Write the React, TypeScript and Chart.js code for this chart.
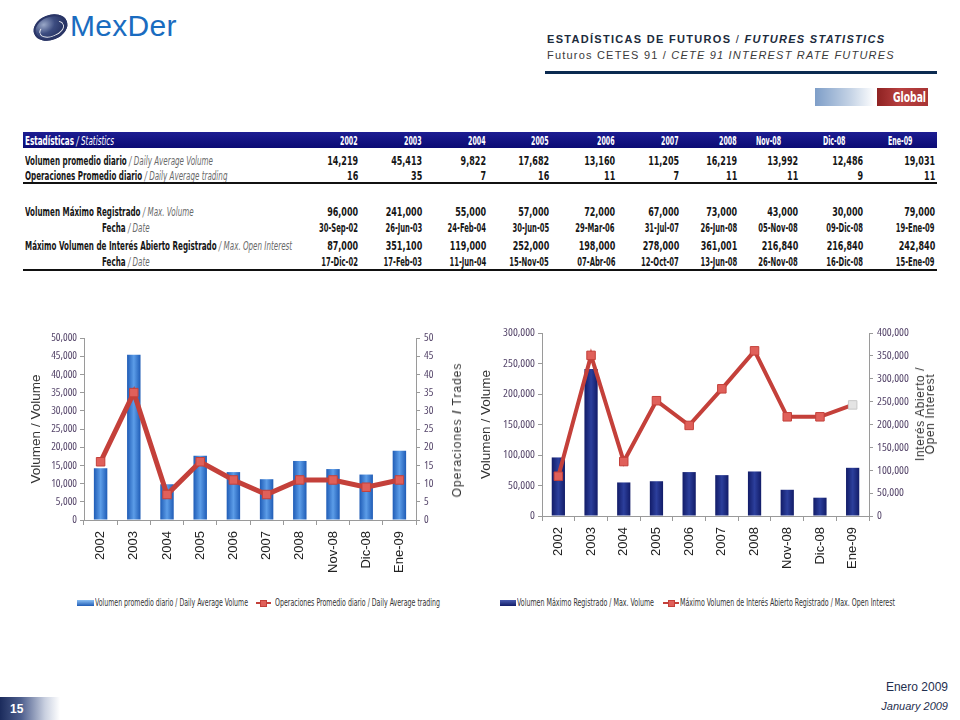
import React, { useEffect, useRef } from "react";
import { Chart, registerables } from "chart.js";

Chart.register(...registerables);

// ---------- data ----------
const categories = ["2002", "2003", "2004", "2005", "2006", "2007", "2008", "Nov-08", "Dic-08", "Ene-09"];
const dailyAvgVolume = [14219, 45413, 9822, 17682, 13160, 11205, 16219, 13992, 12486, 19031];
const dailyAvgTrading = [16, 35, 7, 16, 11, 7, 11, 11, 9, 11];
const maxVolume = [96000, 241000, 55000, 57000, 72000, 67000, 73000, 43000, 30000, 79000];
const maxVolumeDate = ["30-Sep-02", "26-Jun-03", "24-Feb-04", "30-Jun-05", "29-Mar-06", "31-Jul-07", "26-Jun-08", "05-Nov-08", "09-Dic-08", "19-Ene-09"];
const maxOpenInterest = [87000, 351100, 119000, 252000, 198000, 278000, 361001, 216840, 216840, 242840];
const maxOpenInterestDate = ["17-Dic-02", "17-Feb-03", "11-Jun-04", "15-Nov-05", "07-Abr-06", "12-Oct-07", "13-Jun-08", "26-Nov-08", "16-Dic-08", "15-Ene-09"];

const volumeAxisMax = 50000;
const volumeAxisStep = 5000;
const tradesAxisMax = 50;
const tradesAxisStep = 5;
const maxVolumeAxisMax = 300000;
const maxVolumeAxisStep = 50000;
const openInterestAxisMax = 400000;
const openInterestAxisStep = 50000;

// ---------- style ----------
const COND = "'DejaVu Sans Condensed', sans-serif";
const TICK_FAMILY = "'Open Sans', 'DejaVu Sans Condensed', sans-serif";
const SANS = "'Liberation Sans', Arial, sans-serif";
const TICK_COLOR = "#55456a";
const AXIS_COLOR = "#9a9a9a";
const RED = "#c4403a";
const RED_LIGHT = "#e0605a";

const fmt = (n: number) => n.toLocaleString("en-US");

function cylinder(dark: string, light: string, fallback: string, pct: number) {
  return (ctx: any) => {
    const chart = ctx.chart;
    if (ctx.type !== "data" || !chart.chartArea || !chart.scales.x) return fallback;
    const x = chart.scales.x.getPixelForValue(ctx.dataIndex);
    const half = ((chart.chartArea.width / categories.length) * pct) / 2;
    const g = chart.ctx.createLinearGradient(x - half, 0, x + half, 0);
    g.addColorStop(0, dark);
    g.addColorStop(0.5, light);
    g.addColorStop(1, dark);
    return g;
  };
}

type ChartCfg = {
  barLabel: string;
  lineLabel: string;
  bars: number[];
  line: number[];
  yMax: number;
  yStep: number;
  y1Max: number;
  y1Step: number;
  yWidth: number;
  y1Width: number;
  xHeight: number;
  tickSize: number;
  barDark: string;
  barLight: string;
  lineWidth: number;
  lastPointPale: boolean;
};

function ComboChart({ cfg, width, height, left, top }: { cfg: ChartCfg; width: number; height: number; left: number; top: number }) {
  const ref = useRef<HTMLCanvasElement | null>(null);
  useEffect(() => {
    if (!ref.current) return;
    const pct = 0.45 * 0.9;
    const tickFont = { family: TICK_FAMILY, size: cfg.tickSize, weight: "condensed" };
    const chart = new Chart(ref.current, {
      type: "bar",
      data: {
        labels: categories,
        datasets: [
          {
            type: "bar",
            label: cfg.barLabel,
            data: cfg.bars,
            yAxisID: "y",
            order: 1,
            backgroundColor: cylinder(cfg.barDark, cfg.barLight, cfg.barDark, pct) as any,
            barPercentage: 0.45,
            categoryPercentage: 0.9,
          },
          {
            type: "line",
            label: cfg.lineLabel,
            data: cfg.line,
            yAxisID: "y1",
            order: 0,
            borderColor: RED,
            borderWidth: cfg.lineWidth,
            tension: 0,
            pointStyle: "rect",
            pointRadius: 6,
            pointHoverRadius: 6,
            pointBackgroundColor: ((c: any) =>
              cfg.lastPointPale && c.dataIndex === cfg.line.length - 1 ? "#e4e4e4" : RED_LIGHT) as any,
            pointBorderColor: ((c: any) =>
              cfg.lastPointPale && c.dataIndex === cfg.line.length - 1 ? "#c8c8c8" : RED) as any,
            pointBorderWidth: 1,
          },
        ],
      },
      options: {
        responsive: false,
        animation: false,
        layout: { padding: { top: 18, bottom: 0, left: 0, right: 0 } },
        plugins: {
          tooltip: { enabled: false },
          legend: { display: false },
        },
        scales: {
          x: {
            type: "category",
            offset: true,
            afterFit: (s: any) => {
              s.height = cfg.xHeight;
            },
            grid: { display: true, drawOnChartArea: false, drawTicks: true, tickLength: 5, color: AXIS_COLOR },
            border: { display: true, color: AXIS_COLOR },
            ticks: {
              minRotation: 90,
              maxRotation: 90,
              autoSkip: false,
              padding: 6,
              color: "#222",
              font: { family: SANS, size: 13 },
            },
          },
          y: {
            position: "left",
            min: 0,
            max: cfg.yMax,
            afterFit: (s: any) => {
              s.width = cfg.yWidth;
            },
            grid: { display: true, drawOnChartArea: false, drawTicks: true, tickLength: 4, color: AXIS_COLOR },
            border: { display: true, color: AXIS_COLOR },
            ticks: {
              stepSize: cfg.yStep,
              padding: 3,
              color: TICK_COLOR,
              font: tickFont,
              callback: (v: any) => fmt(Number(v)),
            },
            title: {
              display: true,
              text: "Volumen / Volume",
              color: "#333",
              font: { family: SANS, size: 13.5 },
              padding: { top: 8, bottom: 0 },
            },
          },
          y1: {
            position: "right",
            min: 0,
            max: cfg.y1Max,
            afterFit: (s: any) => {
              s.width = cfg.y1Width;
            },
            grid: { display: true, drawOnChartArea: false, drawTicks: true, tickLength: 4, color: AXIS_COLOR },
            border: { display: true, color: AXIS_COLOR },
            ticks: {
              stepSize: cfg.y1Step,
              padding: 4,
              color: TICK_COLOR,
              font: tickFont,
              callback: (v: any) => fmt(Number(v)),
            },
          },
        },
      } as any,
    });
    return () => chart.destroy();
  }, [cfg]);
  return (
    <canvas
      ref={ref}
      width={width}
      height={height}
      style={{ position: "absolute", left, top, width, height }}
    />
  );
}

const leftCfg: ChartCfg = {
  barLabel: "Volumen promedio diario / Daily Average Volume",
  lineLabel: "Operaciones Promedio diario / Daily Average trading",
  bars: dailyAvgVolume,
  line: dailyAvgTrading,
  yMax: volumeAxisMax,
  yStep: volumeAxisStep,
  y1Max: tradesAxisMax,
  y1Step: tradesAxisStep,
  yWidth: 64,
  y1Width: 54,
  xHeight: 70,
  tickSize: 11,
  barDark: "#1f5cb6",
  barLight: "#5c9de8",
  lineWidth: 5,
  lastPointPale: false,
};

const rightCfg: ChartCfg = {
  barLabel: "Volumen Máximo Registrado / Max. Volume",
  lineLabel: "Máximo Volumen de Interés Abierto Registrado / Max. Open Interest",
  bars: maxVolume,
  line: maxOpenInterest,
  yMax: maxVolumeAxisMax,
  yStep: maxVolumeAxisStep,
  y1Max: openInterestAxisMax,
  y1Step: openInterestAxisStep,
  yWidth: 72,
  y1Width: 81,
  xHeight: 74,
  tickSize: 11.5,
  barDark: "#121c68",
  barLight: "#2c3f9c",
  lineWidth: 4,
  lastPointPale: true,
};

// ---------- text helpers ----------
let measureCtx: CanvasRenderingContext2D | null = null;
function measure(text: string, font: string) {
  if (!measureCtx) measureCtx = document.createElement("canvas").getContext("2d");
  measureCtx!.font = font;
  return measureCtx!.measureText(text).width;
}
const fontStr = (bold: boolean, italic: boolean, size: number) =>
  `${italic ? "italic " : ""}${bold ? "bold" : "normal"} ${size}px ${COND}`;

function FitText({ left, cy, width, text, size, family, color, bold }: any) {
  const w = measure(text, `${bold ? "bold " : ""}${size}px ${family}`);
  const s = w > 0 ? width / w : 1;
  return (
    <div
      style={{
        position: "absolute",
        left,
        top: cy - size * 0.6,
        height: size * 1.2,
        lineHeight: size * 1.2 + "px",
        fontFamily: family,
        fontWeight: bold ? "bold" : "normal",
        fontSize: size,
        color,
        whiteSpace: "nowrap",
        transform: `scaleX(${s})`,
        transformOrigin: "left center",
      }}
    >
      {text}
    </div>
  );
}

function BarIcon({ left, top, width, c1, c2 }: any) {
  return (
    <div
      style={{
        position: "absolute",
        left,
        top,
        width,
        height: 6,
        background: `linear-gradient(${c1}, ${c2})`,
      }}
    />
  );
}

function LineIcon({ left, top, width }: any) {
  return (
    <div style={{ position: "absolute", left, top, width, height: 8 }}>
      <div style={{ position: "absolute", left: 0, top: 3, width, height: 2, background: RED }} />
      <div
        style={{
          position: "absolute",
          left: width / 2 - 3.5,
          top: 0.5,
          width: 7,
          height: 7,
          boxSizing: "border-box",
          background: RED_LIGHT,
          border: `1px solid ${RED}`,
        }}
      />
    </div>
  );
}

// ---------- table ----------
const colRight = [358, 422, 486, 549, 615, 679, 737, 798, 863, 935];
const headLeft = [0, 0, 0, 0, 0, 0, 0, 756, 823, 888];

function Cell({ x, top, h, align, sx, children, style }: any) {
  const outer: React.CSSProperties = {
    position: "absolute",
    top,
    height: h,
    lineHeight: h + "px",
    whiteSpace: "nowrap",
    ...(align === "right" ? { right: 960 - x } : { left: x }),
  };
  return (
    <div style={outer}>
      <span
        style={{
          display: "inline-block",
          transform: `scaleX(${sx})`,
          transformOrigin: align === "right" ? "right center" : "left center",
          ...style,
        }}
      >
        {children}
      </span>
    </div>
  );
}

const mainStyle: React.CSSProperties = { fontFamily: COND, fontSize: 13, fontWeight: "bold", color: "#161616" };
const itStyle: React.CSSProperties = { fontStyle: "italic", fontWeight: "normal", color: "#6a6a6a" };

function StatsTable() {
  const labelW = (main: string, sub: string) =>
    measure(main, fontStr(true, false, 13)) + measure(` / ${sub}`, fontStr(false, true, 13));
  const SX_LABEL = 188 / labelW("Volumen promedio diario", "Daily Average Volume");
  const SX_HEADLABEL = 89 / labelW("Estadísticas", "Statistics");
  const SX_NUM = 31 / measure("14,219", fontStr(true, false, 13));
  const SX_DATE = 39 / measure("30-Sep-02", fontStr(true, false, 13));
  const SX_HEAD = 17.5 / measure("2002", fontStr(true, false, 13));

  const headStyle: React.CSSProperties = { ...mainStyle, color: "#ffffff" };

  const Label = ({ top, x = 25, main, sub }: { top: number; x?: number; main: string; sub: string }) => (
    <Cell x={x} top={top} h={16} align="left" sx={SX_LABEL} style={mainStyle}>
      {main}
      <span style={itStyle}> / {sub}</span>
    </Cell>
  );
  const ValueRow = ({ top, values, sx }: { top: number; values: string[]; sx: number }) => (
    <>
      {values.map((v, i) => (
        <Cell key={i} x={colRight[i]} top={top} h={16} align="right" sx={sx} style={mainStyle}>
          {v}
        </Cell>
      ))}
    </>
  );

  return (
    <>
      <div
        style={{
          position: "absolute",
          left: 23,
          top: 132,
          width: 914,
          height: 16,
          background: "linear-gradient(#1d1d92, #0b0b74)",
        }}
      />
      <Cell x={25} top={132} h={16} align="left" sx={SX_HEADLABEL} style={headStyle}>
        Estadísticas<span style={{ fontStyle: "italic", fontWeight: "normal" }}> / Statistics</span>
      </Cell>
      {categories.map((c, i) =>
        headLeft[i] ? (
          <Cell key={c} x={headLeft[i]} top={132} h={16} align="left" sx={SX_HEAD} style={headStyle}>
            {c}
          </Cell>
        ) : (
          <Cell key={c} x={colRight[i]} top={132} h={16} align="right" sx={SX_HEAD} style={headStyle}>
            {c}
          </Cell>
        )
      )}
      <Label top={152} main="Volumen promedio diario" sub="Daily Average Volume" />
      <ValueRow top={152} values={dailyAvgVolume.map(fmt)} sx={SX_NUM} />
      <Label top={167} main="Operaciones Promedio diario" sub="Daily Average trading" />
      <ValueRow top={167} values={dailyAvgTrading.map(fmt)} sx={SX_NUM} />
      <div style={{ position: "absolute", left: 23, top: 182, width: 914, height: 2, background: "#111" }} />

      <Label top={202.5} main="Volumen Máximo Registrado" sub="Max. Volume" />
      <ValueRow top={202.5} values={maxVolume.map(fmt)} sx={SX_NUM} />
      <Label top={219} x={102} main="Fecha" sub="Date" />
      <ValueRow top={219} values={maxVolumeDate} sx={SX_DATE} />
      <Label top={236.5} main="Máximo Volumen de Interés Abierto Registrado" sub="Max. Open Interest" />
      <ValueRow top={236.5} values={maxOpenInterest.map(fmt)} sx={SX_NUM} />
      <Label top={252.5} x={102} main="Fecha" sub="Date" />
      <ValueRow top={252.5} values={maxOpenInterestDate} sx={SX_DATE} />
      <div style={{ position: "absolute", left: 23, top: 269, width: 914, height: 2, background: "#111" }} />
    </>
  );
}

function RotText({ cx, cy, children, style }: any) {
  return (
    <div
      style={{
        position: "absolute",
        left: cx,
        top: cy,
        transform: "translate(-50%, -50%) rotate(-90deg)",
        whiteSpace: "nowrap",
        textAlign: "center",
        ...style,
      }}
    >
      {children}
    </div>
  );
}

export default function App() {
  return (
    <div
      style={{
        position: "absolute",
        left: 0,
        top: 0,
        width: 960,
        height: 720,
        overflow: "hidden",
        background: "#ffffff",
        fontFamily: SANS,
      }}
    >
      {/* logo */}
      <div
        style={{
          position: "absolute",
          left: 33,
          top: 15,
          width: 35,
          height: 25,
          borderRadius: "50%",
          transform: "rotate(-22deg)",
          background: "radial-gradient(ellipse at 35% 30%, #9aa8c8 0%, #3c4c80 35%, #111a45 100%)",
          boxShadow: "inset 0 0 0 2px #2a3566",
        }}
      >
        <div
          style={{
            position: "absolute",
            left: 5,
            top: 7,
            width: 24,
            height: 13,
            borderRadius: "50%",
            border: "1.5px solid rgba(255,255,255,0.85)",
            borderTopColor: "transparent",
          }}
        />
      </div>
      <div
        style={{
          position: "absolute",
          left: 70,
          top: 9,
          fontFamily: SANS,
          fontSize: 30,
          color: "#1a6cc0",
          letterSpacing: 0.3,
        }}
      >
        MexDer
      </div>

      {/* header */}
      <div
        style={{
          position: "absolute",
          left: 547,
          top: 32,
          fontSize: 11,
          letterSpacing: 1.3,
          color: "#1c2b3c",
          whiteSpace: "nowrap",
          lineHeight: "14px",
        }}
      >
        <b>ESTADÍSTICAS DE FUTUROS</b> / <b><i>FUTURES STATISTICS</i></b>
      </div>
      <div
        style={{
          position: "absolute",
          left: 547,
          top: 48,
          fontSize: 11,
          letterSpacing: 1.2,
          color: "#3a3a3a",
          whiteSpace: "nowrap",
          lineHeight: "14px",
        }}
      >
        Futuros CETES 91 / <i>CETE 91 INTEREST RATE FUTURES</i>
      </div>
      <div style={{ position: "absolute", left: 545, top: 70.5, width: 392, height: 3, background: "#0b2a50" }} />

      {/* Global badge */}
      <div
        style={{
          position: "absolute",
          left: 815,
          top: 88,
          width: 60,
          height: 18,
          background: "linear-gradient(to right, #7e9ec8, #c6d4e6 60%, #ffffff)",
        }}
      />
      <div
        style={{
          position: "absolute",
          left: 877,
          top: 88,
          width: 51,
          height: 18,
          background: "linear-gradient(to right, #8e2222, #b84040 45%, #a83434)",
        }}
      />
      <FitText left={893} cy={97} width={33} text="Global" size={14} family={COND} color="#fff" bold />

      <StatsTable />

      {/* charts */}
      <ComboChart cfg={leftCfg} width={450} height={270} left={20} top={320} />
      <ComboChart cfg={rightCfg} width={480} height={275} left={470} top={315} />

      <RotText cx={457} cy={430} style={{ fontSize: 12, letterSpacing: 1, color: "#333" }}>
        Operaciones <b>/</b> Trades
      </RotText>
      <RotText cx={925} cy={414} style={{ fontSize: 12, letterSpacing: 0.6, color: "#333", lineHeight: "10px" }}>
        Interés Abierto /
        <br />
        Open Interest
      </RotText>

      {/* legends */}
      <BarIcon left={77} top={600} width={17} c1="#8cc0f4" c2="#1f5cb6" />
      <FitText left={95} cy={603} width={153} text={leftCfg.barLabel} size={11} family={COND} color="#333" />
      <LineIcon left={256} top={599} width={15} />
      <FitText left={275} cy={603} width={165} text={leftCfg.lineLabel} size={11} family={COND} color="#333" />

      <BarIcon left={500} top={600} width={16} c1="#4a5cb0" c2="#121c68" />
      <FitText left={517} cy={603} width={137} text={rightCfg.barLabel} size={11} family={COND} color="#333" />
      <LineIcon left={663} top={599} width={16} />
      <FitText left={680} cy={603} width={215} text={rightCfg.lineLabel} size={11} family={COND} color="#333" />

      {/* footer */}
      <div style={{ position: "absolute", right: 12, top: 680, fontSize: 12, color: "#1f2f4f", whiteSpace: "nowrap" }}>
        Enero 2009
      </div>
      <div
        style={{
          position: "absolute",
          right: 12,
          top: 700,
          fontSize: 11,
          fontStyle: "italic",
          color: "#1f2f4f",
          whiteSpace: "nowrap",
        }}
      >
        January 2009
      </div>
      <div
        style={{
          position: "absolute",
          left: 0,
          top: 697,
          width: 60,
          height: 23,
          background: "linear-gradient(to right, #1b2b5c 0%, #4e5f8e 35%, #c9d0e0 75%, #ffffff 100%)",
        }}
      />
      <div
        style={{
          position: "absolute",
          left: 10,
          top: 702,
          fontSize: 12,
          fontWeight: "bold",
          color: "#fff",
        }}
      >
        15
      </div>
    </div>
  );
}
